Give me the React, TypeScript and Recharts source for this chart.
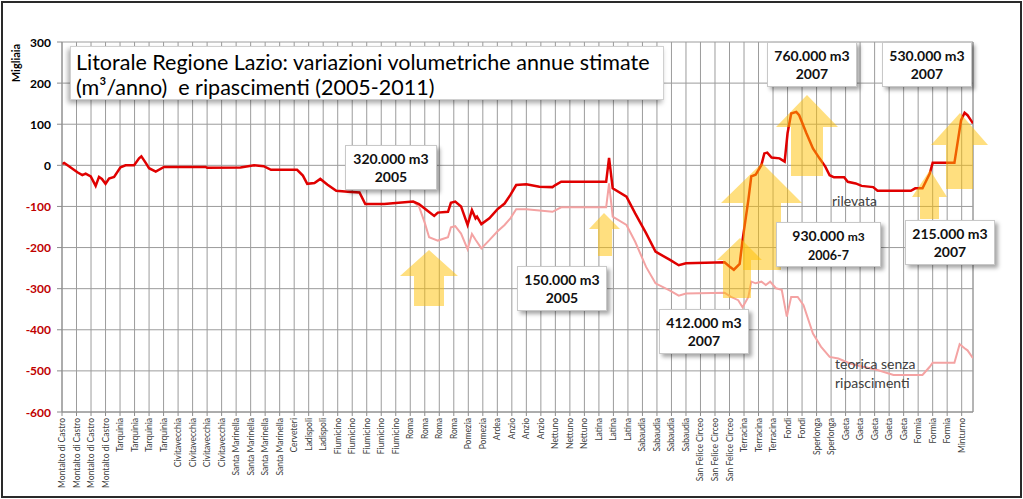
import React from 'react';
import { LineChart, Line, XAxis, YAxis, CartesianGrid, ReferenceLine } from 'recharts';

// località lungo la costa (una per tacca dell'asse X)
const locations = [
  'Montalto di Castro', 'Montalto di Castro', 'Montalto di Castro', 'Montalto di Castro',
  'Tarquinia', 'Tarquinia', 'Tarquinia', 'Tarquinia',
  'Civitavecchia', 'Civitavecchia', 'Civitavecchia', 'Civitavecchia',
  'Santa Marinella', 'Santa Marinella', 'Santa Marinella', 'Santa Marinella',
  'Cerveteri', 'Ladispoli', 'Ladispoli',
  'Fiumicino', 'Fiumicino', 'Fiumicino', 'Fiumicino', 'Fiumicino',
  'Roma', 'Roma', 'Roma', 'Roma',
  'Pomezia', 'Pomezia', 'Ardea', 'Anzio', 'Anzio', 'Anzio',
  'Nettuno', 'Nettuno', 'Nettuno', 'Latina', 'Latina', 'Latina',
  'Sabaudia', 'Sabaudia', 'Sabaudia', 'Sabaudia',
  'San Felice Circeo', 'San Felice Circeo', 'San Felice Circeo',
  'Terracina', 'Terracina', 'Terracina', 'Fondi', 'Fondi', 'Sperlonga', 'Sperlonga',
  'Gaeta', 'Gaeta', 'Gaeta', 'Gaeta', 'Gaeta', 'Formia', 'Formia', 'Formia', 'Minturno',
];

const yTicks = [300, 200, 100, 0, -100, -200, -300, -400, -500, -600];
const XMAX = 62.78;

// [posizione lungo costa, migliaia m3/anno]
const rilevata: [number, number][] = [
  [0, 3], [0.15, 6], [0.48, -2], [1.06, -17], [1.4, -24], [1.63, -20], [1.98, -27], [2.32, -50],
  [2.55, -28], [2.75, -33], [3.0, -45], [3.24, -32], [3.59, -28], [4.03, -5], [4.38, 0], [4.97, 0],
  [5.31, 17], [5.47, 22], [5.77, 6], [6.0, -7], [6.46, -15], [7.03, -4], [9.9, -4], [10.0, -6],
  [12.3, -5], [13.24, 0], [13.9, -2], [14.4, -11], [16.2, -11], [16.6, -25], [16.9, -45], [17.4, -43],
  [17.8, -33], [18.3, -47], [18.9, -62], [19.7, -64], [20.5, -66], [20.9, -94], [22.2, -94],
  [24.2, -88], [24.6, -94], [25.1, -108], [25.65, -123], [25.9, -115], [26.6, -113], [26.8, -91],
  [27.1, -88], [27.5, -100], [27.95, -145], [28.25, -109], [28.5, -129], [28.6, -125], [28.9, -143],
  [29.45, -129], [30.0, -107], [30.5, -93], [30.9, -72], [31.3, -48], [32.0, -46], [32.9, -52],
  [33.8, -53], [34.0, -48], [34.4, -40], [37.5, -40], [37.7, 18], [37.95, -56], [38.9, -76],
  [39.5, -117], [40.25, -165], [40.9, -210], [41.9, -230], [42.5, -243], [43.0, -238], [45.66, -236],
  [46.0, -246], [46.3, -254], [46.7, -240], [46.9, -182], [47.3, -84], [47.5, -27], [47.8, -23],
  [48.2, 1], [48.4, 29], [48.6, 31], [48.9, 19], [49.45, 17], [49.8, 9], [50.0, 78], [50.25, 126],
  [50.6, 130], [50.8, 122], [51.3, 78], [51.75, 41], [52.2, 17], [52.6, -3], [52.9, -24], [53.2, -29],
  [53.9, -29], [54.15, -40], [54.7, -44], [55.1, -50], [55.9, -53], [56.2, -62], [58.5, -62],
  [58.8, -56], [59.3, -56], [59.8, -20], [60.0, 6], [61.5, 6], [61.96, 110], [62.2, 128], [62.4, 122],
  [62.78, 102],
];

const teorica: [number, number][] = [
  [24.2, -88], [24.6, -100], [25.0, -140], [25.3, -175], [25.9, -183], [26.6, -175], [26.8, -151],
  [27.1, -148], [27.5, -166], [27.95, -204], [28.25, -167], [28.5, -181], [28.9, -202], [29.45, -182],
  [30.0, -161], [30.5, -145], [30.9, -129], [31.3, -107], [32.0, -107], [32.9, -110], [33.8, -113],
  [34.4, -102], [37.5, -102], [37.7, -44], [37.95, -125], [38.9, -145], [39.5, -186], [40.25, -247],
  [40.9, -287], [41.9, -305], [42.5, -317], [43.0, -312], [45.66, -310], [46.1, -320], [46.6, -328],
  [46.9, -345], [47.3, -320], [47.5, -283], [47.8, -287], [48.2, -283], [48.5, -291], [48.8, -283],
  [49.2, -299], [49.6, -303], [49.95, -368], [50.25, -320], [50.7, -320], [51.1, -340], [51.75, -409],
  [52.3, -441], [52.9, -466], [53.5, -470], [54.3, -482], [55.2, -490], [56.2, -498], [57.3, -510],
  [59.3, -510], [59.8, -490], [60.0, -480], [61.5, -480], [61.86, -435], [62.2, -445], [62.4, -450],
  [62.78, -469],
];

// ripascimenti: [quantità, anno, left, top, width]
const boxes: [string, string, number, number, number][] = [
  ['320.000', '2005', 345, 145, 92],
  ['150.000', '2005', 517, 266, 90],
  ['412.000', '2007', 659, 309, 90],
  ['930.000', '2006-7', 776, 222, 105],
  ['760.000', '2007', 767, 42, 90],
  ['530.000', '2007', 882, 42, 90],
  ['215.000', '2007', 905, 220, 90],
];

// frecce: tipX, tipY, headL, headR, headBase, shaftL, shaftR, bottom
const arrows = [
  [429, 250, 400, 458, 276, 414, 444, 306],
  [604, 213, 589, 620, 229, 598, 612, 256],
  [762, 163, 721, 802, 203, 743, 781, 270],
  [740, 238, 717, 762, 260, 723, 751, 298],
  [807, 95, 776, 838, 127, 791, 823, 176],
  [930, 170, 912, 947, 197, 920, 939, 219],
  [960, 113, 931, 988, 145, 946, 973, 189],
];

const rilevataData = rilevata.map(([pos, v]) => ({ pos, v }));
const teoricaData = teorica.map(([pos, v]) => ({ pos, v }));

const FONT = 'Lato, "Open Sans", sans-serif';

const XTick = ({ x, y, payload }: any) => (
  <text x={x} y={y} transform={`rotate(-90, ${x}, ${y})`} textAnchor="end" dominantBaseline="central"
    fontSize={8.5} fill="#404040" fontFamily={FONT}>
    {locations[payload.value]}
  </text>
);

const YTick = ({ x, y, payload }: any) => (
  <text x={x} y={y} textAnchor="end" dominantBaseline="central" fontSize={12} fontWeight="bold"
    fill={payload.value < 0 ? '#C00000' : '#000'} fontFamily={FONT}>
    {payload.value}
  </text>
);

export default function App() {
  return (
    <div style={{ position: 'absolute', left: 0, top: 0, width: 1023, height: 499, background: '#fff', fontFamily: FONT }}>
      <LineChart width={1023} height={499} margin={{ top: 42, right: 50, bottom: 0, left: 0 }}>
        <CartesianGrid stroke="#9c9c9c" />
        <XAxis type="number" dataKey="pos" domain={[0, XMAX]} allowDataOverflow
          ticks={locations.map((_, i) => i)} interval={0} height={87}
          tick={<XTick />} tickSize={4} tickMargin={2}
          axisLine={{ stroke: '#8c8c8c' }} tickLine={{ stroke: '#8c8c8c' }} />
        <YAxis type="number" domain={[-600, 300]} ticks={yTicks} interval={0} width={62}
          tick={<YTick />} tickSize={5} tickMargin={6}
          axisLine={{ stroke: '#8c8c8c' }} tickLine={{ stroke: '#8c8c8c' }} />
        <ReferenceLine x={XMAX} stroke="#9c9c9c" />
        <Line data={teoricaData} dataKey="v" type="linear" stroke="#F4A3A3" strokeWidth={2}
          dot={false} isAnimationActive={false} />
        <Line data={rilevataData} dataKey="v" type="linear" stroke="#E00000" strokeWidth={2.5}
          dot={false} isAnimationActive={false} />
      </LineChart>

      <svg width={1023} height={499} style={{ position: 'absolute', left: 0, top: 0, pointerEvents: 'none' }}>
        {arrows.map(([tx, ty, hl, hr, hb, sl, sr, b], i) => (
          <polygon key={i}
            points={`${tx},${ty} ${hr},${hb} ${sr},${hb} ${sr},${b} ${sl},${b} ${sl},${hb} ${hl},${hb}`}
            fill="#FFBF00" fillOpacity={0.5} />
        ))}
      </svg>

      <div style={{ position: 'absolute', left: 4, top: 48, transform: 'rotate(-90deg)', transformOrigin: 'center',
        fontSize: 11, fontWeight: 'bold', width: 22, height: 30, display: 'flex', alignItems: 'center', justifyContent: 'center' }}>
        Migliaia
      </div>

      <div style={{ position: 'absolute', left: 70, top: 46, width: 594, height: 54, background: '#fff',
        boxShadow: '-2px 3px 5px rgba(0,0,0,0.35)', border: '1px solid #d0d0d0', boxSizing: 'border-box',
        padding: '3px 0 0 5px', fontSize: 21.5, lineHeight: '25px', color: '#000', whiteSpace: 'nowrap' }}>
        Litorale Regione Lazio: variazioni volumetriche annue stimate<br />
        (m³/anno)&nbsp; e ripascimenti (2005-2011)
      </div>

      {boxes.map(([t, yr, l, tp, w], i) => (
        <div key={i} style={{ position: 'absolute', left: l, top: tp, width: w, height: 45, background: '#fff',
          border: '1px solid #c8c8c8', boxSizing: 'border-box', boxShadow: '3px 3px 4px rgba(0,0,0,0.35)',
          textAlign: 'center', fontSize: 14, fontWeight: 'bold', lineHeight: '18px', paddingTop: 4, color: '#111' }}>
          {t} <span style={{ fontSize: yr === '2006-7' ? 12 : 14 }}>m3</span><br />
          <span style={{ fontSize: yr === '2006-7' ? 12.5 : 14 }}>{yr}</span>
        </div>
      ))}

      <div style={{ position: 'absolute', left: 832, top: 192, fontSize: 14, color: '#404040' }}>rilevata</div>
      <div style={{ position: 'absolute', left: 835, top: 354, fontSize: 14, lineHeight: '19px', color: '#404040' }}>
        teorica senza<br />ripascimenti
      </div>

      <div style={{ position: 'absolute', left: 1, top: 1, width: 1021, height: 497, border: '2px solid #2a2a2a',
        boxSizing: 'border-box', pointerEvents: 'none' }} />
    </div>
  );
}
